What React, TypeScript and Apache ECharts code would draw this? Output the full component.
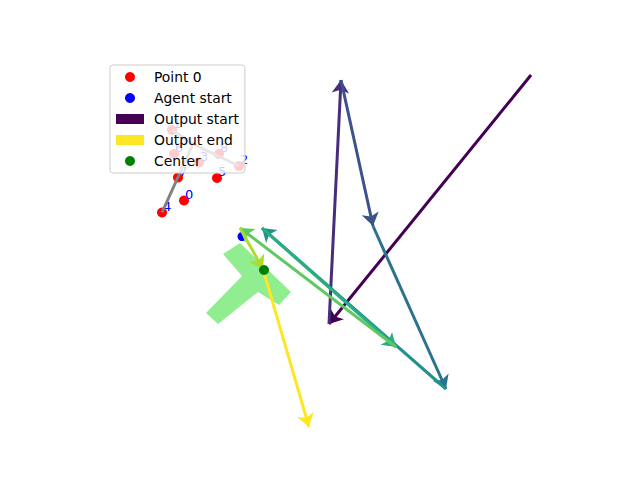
import React, { useEffect, useRef } from "react";
import * as echarts from "echarts";

// Plot coordinates (x right, y down)
const pointLabels = ["0", "1", "2", "3", "4", "5", "6", "7", "8"];
const pointX = [184, 172, 239, 199, 162, 217, 174, 178, 219];
const pointY = [200.5, 130, 166, 162.5, 212.5, 178, 154, 177.5, 154];

// skeleton segments (gray)
const skelFrom = [[162, 212.5], [193, 144], [193, 144]];
const skelTo = [[193, 144], [172, 130], [239, 166]];

// path of the output arrows
const pathX = [531, 329, 341, 373, 446, 262, 396, 240, 263, 309];
const pathY = [75, 324, 80, 226, 389, 228, 347, 228, 269, 427];
const arrowColors = [
  "#440154", "#472d7b", "#3b528b", "#2c728e", "#21918c",
  "#28ae80", "#5ec962", "#addc30", "#fde725",
];

// light green region outline
const shapeX = [240, 291, 279, 258, 218, 206, 242, 223];
const shapeY = [243, 292, 305, 292, 324, 313, 276, 254];

const agentStart = [242, 236.5];
const center = [264, 270];

const legendNames = ["Point 0", "Agent start", "Output start", "Output end", "Center"];

export default function App() {
  const ref = useRef<HTMLDivElement>(null);
  useEffect(() => {
    if (!ref.current) return;
    const chart = echarts.init(ref.current, undefined, { renderer: "svg" });
    const arrowData = arrowColors.map((c, i) => ({
      coords: [
        [pathX[i], pathY[i]],
        [pathX[i + 1], pathY[i + 1]],
      ],
      lineStyle: { color: c },
    }));
    const font = "DejaVu Sans";
    chart.setOption({
      animation: false,
      backgroundColor: "#ffffff",
      grid: { left: 0, right: 0, top: 0, bottom: 0 },
      xAxis: { type: "value", min: 0, max: 640, show: false },
      yAxis: { type: "value", min: 0, max: 480, inverse: true, show: false },
      legend: {
        orient: "vertical",
        left: 110,
        top: 65,
        z: 20,
        selectedMode: false,
        padding: [5, 6, 5, 6],
        itemGap: 7,
        itemWidth: 28,
        itemHeight: 10,
        backgroundColor: "rgba(255,255,255,0.8)",
        borderColor: "#cccccc",
        borderWidth: 1,
        borderRadius: 3,
        textStyle: {
          fontFamily: font,
          fontSize: 13.89,
          lineHeight: 14,
          color: "#000",
          padding: [0, 0, 0, 5],
        },
        data: [
          { name: legendNames[0], icon: "circle" },
          { name: legendNames[1], icon: "circle" },
          { name: legendNames[2], icon: "rect" },
          { name: legendNames[3], icon: "rect" },
          { name: legendNames[4], icon: "circle" },
        ],
      },
      series: [
        {
          type: "custom",
          name: "region",
          z: 1,
          clip: false,
          data: shapeX.map((x, i) => [x, shapeY[i]]),
          renderItem: (params: any, api: any) => {
            if (params.dataIndex !== 0) return null;
            const pts = shapeX.map((x, i) => api.coord([x, shapeY[i]]));
            return {
              type: "polygon",
              shape: { points: pts },
              style: { fill: "#90ee90" },
            };
          },
        },
        {
          type: "scatter",
          name: legendNames[0],
          z: 2,
          symbolSize: 10,
          itemStyle: { color: "#ff0000", opacity: 1 },
          data: pointX.map((x, i) => ({ value: [x, pointY[i]], name: pointLabels[i] })),
          label: {
            show: true,
            formatter: (p: any) => p.name,
            position: [6, 5],
            align: "left",
            verticalAlign: "bottom",
            color: "#0000ff",
            fontFamily: font,
            fontSize: 13,
          },
          labelLayout: { hideOverlap: false },
        },
        {
          type: "lines",
          name: "skeleton",
          coordinateSystem: "cartesian2d",
          z: 3,
          symbol: "none",
          lineStyle: { color: "#808080", width: 3, opacity: 1 },
          data: skelFrom.map((f, i) => ({ coords: [f, skelTo[i]] })),
        },
        {
          type: "scatter",
          name: legendNames[1],
          z: 4,
          symbolSize: 9,
          itemStyle: { color: "#0000ff", opacity: 1 },
          data: [agentStart],
        },
        {
          type: "lines",
          name: "arrows",
          coordinateSystem: "cartesian2d",
          z: 5,
          symbol: ["none", "arrow"],
          symbolSize: [9, 13],
          lineStyle: { width: 3, opacity: 1 },
          data: arrowData,
        },
        {
          type: "scatter",
          name: legendNames[2],
          itemStyle: { color: arrowColors[0], opacity: 1 },
          data: [],
        },
        {
          type: "scatter",
          name: legendNames[3],
          itemStyle: { color: arrowColors[arrowColors.length - 1], opacity: 1 },
          data: [],
        },
        {
          type: "scatter",
          name: legendNames[4],
          z: 6,
          symbolSize: 10,
          itemStyle: { color: "#008000", opacity: 1 },
          data: [center],
        },
      ],
    });
    return () => chart.dispose();
  }, []);
  return (
    <div
      ref={ref}
      style={{ position: "fixed", left: 0, top: 0, width: 640, height: 480 }}
    />
  );
}
